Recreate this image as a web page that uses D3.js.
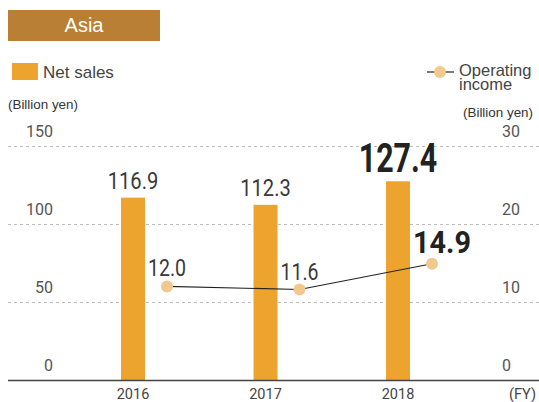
<!DOCTYPE html>
<html><head><meta charset="utf-8">
<script src="https://cdn.jsdelivr.net/npm/d3@7"></script>
<style>html,body{margin:0;padding:0;background:#fff;}svg{display:block;}</style>
</head><body>
<script>
const years = ["2016", "2017", "2018"];
const netSales = [116.9, 112.3, 127.4];
const operatingIncome = [12.0, 11.6, 14.9];
const leftTicks = [0, 50, 100, 150];
const rightTicks = [0, 10, 20, 30];

const W = 539, H = 402;
const svg = d3.select("body").append("svg").attr("width", W).attr("height", H);
const numFont = "Roboto, 'DejaVu Sans', sans-serif";
const txtFont = "'Liberation Sans', Arial, sans-serif";

const x = d3.scalePoint().domain(years).range([133, 398]);
const yL = d3.scaleLinear().domain([0, 150]).range([380, 146]);
const yR = d3.scaleLinear().domain([0, 30]).range([380, 146]);
const dotOffset = 34, barW = 24;

// title box
svg.append("rect").attr("x", 8).attr("y", 10).attr("width", 152).attr("height", 31).attr("fill", "#b98035");
svg.append("text").attr("x", 84).attr("y", 32).attr("text-anchor", "middle")
  .attr("font-family", txtFont).attr("font-size", 20).attr("fill", "#fff").text("Asia");

// legends
svg.append("rect").attr("x", 12).attr("y", 63).attr("width", 26).attr("height", 17).attr("fill", "#eda42e");
svg.append("text").attr("x", 43).attr("y", 78).attr("font-family", txtFont).attr("font-size", 17).attr("fill", "#444").text("Net sales");
svg.append("text").attr("x", 8).attr("y", 109).attr("font-family", txtFont).attr("font-size", 13.4).attr("fill", "#333").text("(Billion yen)");

svg.append("line").attr("x1", 427).attr("x2", 454).attr("y1", 72).attr("y2", 72).attr("stroke", "#222").attr("stroke-width", 1.2);
svg.append("circle").attr("cx", 440).attr("cy", 72).attr("r", 6).attr("fill", "#f1c98f");
const op = svg.append("text").attr("font-family", txtFont).attr("font-size", 16.5).attr("fill", "#444");
op.append("tspan").attr("x", 459).attr("y", 76).text("Operating");
op.append("tspan").attr("x", 459).attr("y", 90).text("income");
svg.append("text").attr("x", 533).attr("y", 117).attr("text-anchor", "end").attr("font-family", txtFont).attr("font-size", 13.4).attr("fill", "#333").text("(Billion yen)");

// gridlines
svg.append("g").selectAll("line").data(leftTicks.filter(d => d > 0)).join("line")
  .attr("x1", 8).attr("x2", 539).attr("y1", d => yL(d) + 0.5).attr("y2", d => yL(d) + 0.5)
  .attr("stroke", "#bdbdbd").attr("stroke-width", 1).attr("stroke-dasharray", "3,3");

// left tick labels
svg.append("g").selectAll("text").data(leftTicks).join("text")
  .attr("x", 53).attr("y", d => yL(d) - 9).attr("text-anchor", "end")
  .attr("font-family", numFont).attr("font-size", 16).attr("fill", "#555").text(d => d);
// right tick labels
svg.append("g").selectAll("text").data(rightTicks).join("text")
  .attr("x", 502).attr("y", d => yR(d) - 9).attr("text-anchor", "start")
  .attr("font-family", numFont).attr("font-size", 16).attr("fill", "#555").text(d => d);

// bars
svg.append("g").selectAll("rect").data(netSales).join("rect")
  .attr("x", (d, i) => x(years[i]) - barW / 2).attr("width", barW)
  .attr("y", d => yL(d)).attr("height", d => yL(0) - yL(d)).attr("fill", "#eda42e");

// axis baseline
svg.append("line").attr("x1", 8).attr("x2", 539).attr("y1", 380.5).attr("y2", 380.5).attr("stroke", "#444").attr("stroke-width", 1.3);

// x labels
svg.append("g").selectAll("text").data(years).join("text")
  .attr("x", d => x(d)).attr("y", 398.5).attr("text-anchor", "middle")
  .attr("font-family", numFont).attr("font-size", 14.5).attr("fill", "#444").text(d => d);
svg.append("text").attr("x", 536).attr("y", 398.5).attr("text-anchor", "end")
  .attr("font-family", numFont).attr("font-size", 14.5).attr("fill", "#444").text("(FY)");

// line
const line = d3.line().x((d, i) => x(years[i]) + dotOffset).y(d => yR(d));
svg.append("path").datum(operatingIncome).attr("d", line).attr("fill", "none").attr("stroke", "#222").attr("stroke-width", 1.2);
svg.append("g").selectAll("circle").data(operatingIncome).join("circle")
  .attr("cx", (d, i) => x(years[i]) + dotOffset).attr("cy", d => yR(d)).attr("r", 6).attr("fill", "#f1c98f");

// value labels (condensed via horizontal scale)
function condensed(g, cx, by, txt, size, weight, fill, sx) {
  g.append("text").attr("transform", `translate(${cx},${by}) scale(${sx},1)`)
    .attr("text-anchor", "middle").attr("font-family", numFont).attr("font-size", size)
    .attr("font-weight", weight).attr("fill", fill).text(txt);
}
const last = years.length - 1;
const lbl = svg.append("g");
netSales.forEach((d, i) => {
  const big = i === last;
  condensed(lbl, x(years[i]), yL(d) - 9, d.toFixed(1), big ? 40 : 24, big ? 700 : 400, big ? "#222" : "#3a3a3a", big ? 0.76 : 0.84);
});
operatingIncome.forEach((d, i) => {
  const big = i === last;
  condensed(lbl, x(years[i]) + dotOffset + (big ? 10 : 0), yR(d) - (big ? 11 : 10), d.toFixed(1), big ? 32 : 23, big ? 700 : 400, big ? "#222" : "#3a3a3a", big ? 0.9 : 0.85);
});
</script>
</body></html>
